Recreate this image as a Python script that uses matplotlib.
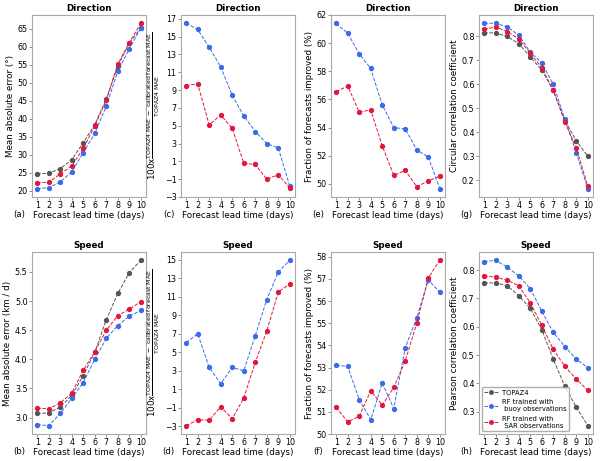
import numpy as np
import matplotlib
matplotlib.use("Agg")
import matplotlib.pyplot as plt

# lead times
days = np.arange(1, 11)

# Direction
dir_mae_topaz = [24.7, 24.9, 26.2, 28.6, 33.4, 38.4, 45.4, 54.6, 61.0, 65.2]
dir_mae_buoy = [20.6, 20.9, 22.5, 25.3, 30.6, 36.0, 43.5, 53.2, 59.4, 65.2]
dir_mae_sar = [22.3, 22.4, 24.7, 26.9, 31.8, 38.0, 45.2, 55.2, 61.1, 66.5]

dir_skill_buoy = [16.5, 15.8, 13.8, 11.6, 8.4, 6.1, 4.35, 3.0, 2.5, -1.8]
dir_skill_sar = [9.5, 9.7, 5.1, 6.2, 4.7, 0.8, 0.65, -1.0, -0.5, -2.0]

dir_frac_buoy = [61.4, 60.7, 59.25, 58.2, 55.6, 54.0, 53.9, 52.4, 51.9, 49.65]
dir_frac_sar = [56.55, 56.95, 55.1, 55.25, 52.7, 50.6, 50.95, 49.8, 50.2, 50.55]

dir_corr_topaz = [0.815, 0.815, 0.80, 0.77, 0.715, 0.66, 0.575, 0.45, 0.365, 0.30]
dir_corr_buoy = [0.855, 0.855, 0.84, 0.805, 0.735, 0.69, 0.60, 0.455, 0.315, 0.165]
dir_corr_sar = [0.83, 0.84, 0.82, 0.79, 0.73, 0.67, 0.575, 0.445, 0.335, 0.175]

# Speed
spd_mae_topaz = [3.07, 3.08, 3.18, 3.38, 3.72, 4.12, 4.68, 5.13, 5.49, 5.70]
spd_mae_buoy = [2.88, 2.86, 3.07, 3.33, 3.60, 4.00, 4.36, 4.58, 4.74, 4.84]
spd_mae_sar = [3.16, 3.15, 3.25, 3.42, 3.81, 4.13, 4.50, 4.75, 4.86, 4.99]

spd_skill_buoy = [6.05, 7.0, 3.35, 1.6, 3.35, 3.0, 6.8, 10.7, 13.7, 14.95]
spd_skill_sar = [-2.95, -2.3, -2.35, -0.9, -2.2, 0.05, 3.9, 7.3, 11.5, 12.4]

spd_frac_buoy = [53.1, 53.05, 51.55, 50.65, 52.3, 51.15, 53.9, 55.25, 56.95, 56.4]
spd_frac_sar = [51.2, 50.55, 50.8, 51.95, 51.3, 52.1, 53.3, 55.0, 57.05, 57.85]

spd_corr_topaz = [0.755, 0.755, 0.745, 0.71, 0.665, 0.59, 0.485, 0.39, 0.315, 0.25]
spd_corr_buoy = [0.83, 0.835, 0.81, 0.78, 0.735, 0.655, 0.58, 0.53, 0.485, 0.455]
spd_corr_sar = [0.78, 0.775, 0.765, 0.745, 0.685, 0.605, 0.52, 0.46, 0.415, 0.375]

c_topaz = "#555555"
c_buoy = "#3b6bea"
c_sar = "#e3173e"

fs = 5.8
plt.rcParams["font.size"] = fs

skill_label = r"100x$\frac{\mathrm{TOPAZ4\ MAE\ -\ calibrated\ forecast\ MAE}}{\mathrm{TOPAZ4\ MAE}}$"

fig = plt.figure(figsize=(6, 4.61), dpi=100)

lefts = [32, 181, 331, 479]
width = 114
tops = [15, 252]
height = 182


def make_ax(col, row):
    l = lefts[col] / 600
    b = 1 - (tops[row] + height) / 461
    return fig.add_axes([l, b, width / 600, height / 461])


def draw(ax, series, title, ylabel, letter, yticks=None):
    for y, c, lab in series:
        ax.plot(days, y, "--", color=c, marker="o", ms=2.8, lw=0.7, label=lab)
    ax.set_title(title, fontsize=fs + 0.5, fontweight="bold", pad=3)
    ax.set_ylabel(ylabel, fontsize=fs + 0.5, labelpad=2)
    ax.set_xlabel("Forecast lead time (days)", fontsize=fs + 0.5, labelpad=0.5)
    ax.set_xticks(days)
    if yticks is not None:
        ax.set_yticks(yticks)
    ax.tick_params(labelsize=fs, length=2, width=0.5, pad=1.2, color="#666666")
    for s in ax.spines.values():
        s.set_color("#aaaaaa")
        s.set_linewidth(0.8)
    ax.text(-0.11, -0.095, letter, transform=ax.transAxes, fontsize=fs + 0.3,
            ha="center", va="center")


ax = make_ax(0, 0)
draw(ax, [(dir_mae_topaz, c_topaz, "TOPAZ4"), (dir_mae_buoy, c_buoy, "buoy"),
          (dir_mae_sar, c_sar, "SAR")],
     "Direction", "Mean absolute error (°)", "(a)", yticks=np.arange(20, 66, 5))

ax = make_ax(1, 0)
draw(ax, [(dir_skill_buoy, c_buoy, "buoy"), (dir_skill_sar, c_sar, "SAR")],
     "Direction", skill_label, "(c)", yticks=np.arange(-3, 18, 2))

ax = make_ax(2, 0)
draw(ax, [(dir_frac_buoy, c_buoy, "buoy"), (dir_frac_sar, c_sar, "SAR")],
     "Direction", "Fraction of forecasts improved (%)", "(e)", yticks=np.arange(50, 63, 2))

ax = make_ax(3, 0)
draw(ax, [(dir_corr_topaz, c_topaz, "TOPAZ4"), (dir_corr_buoy, c_buoy, "buoy"),
          (dir_corr_sar, c_sar, "SAR")],
     "Direction", "Circular correlation coefficient", "(g)")

ax = make_ax(0, 1)
draw(ax, [(spd_mae_topaz, c_topaz, "TOPAZ4"), (spd_mae_buoy, c_buoy, "buoy"),
          (spd_mae_sar, c_sar, "SAR")],
     "Speed", "Mean absolute error (km / d)", "(b)", yticks=np.arange(3.0, 5.6, 0.5))

ax = make_ax(1, 1)
draw(ax, [(spd_skill_buoy, c_buoy, "buoy"), (spd_skill_sar, c_sar, "SAR")],
     "Speed", skill_label, "(d)", yticks=np.arange(-3, 16, 2))

ax = make_ax(2, 1)
draw(ax, [(spd_frac_buoy, c_buoy, "buoy"), (spd_frac_sar, c_sar, "SAR")],
     "Speed", "Fraction of forecasts improved (%)", "(f)", yticks=np.arange(50, 59, 1))

ax = make_ax(3, 1)
draw(ax, [(spd_corr_topaz, c_topaz, "TOPAZ4"),
          (spd_corr_buoy, c_buoy, "RF trained with\n buoy observations"),
          (spd_corr_sar, c_sar, "RF trained with\n SAR observations")],
     "Speed", "Pearson correlation coefficient", "(h)")
ax.legend(loc="lower left", fontsize=fs - 0.9, frameon=True, edgecolor="#999999",
          handlelength=2.0, borderpad=0.4, labelspacing=0.5, handletextpad=0.6,
          borderaxespad=0.4, markerscale=0.9)

fig.savefig("out.png", dpi=100)
